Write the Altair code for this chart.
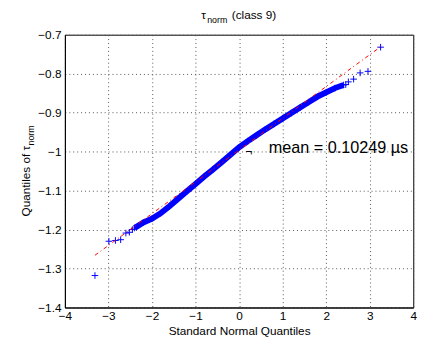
import altair as alt
import pandas as pd

# ---- data ----
band_x = [-2.4, -2.2, -2.0, -1.8, -1.6, -1.4, -1.2, -1.0, -0.8, -0.6, -0.4, -0.2,
          0.0, 0.2, 0.4, 0.6, 0.8, 1.0, 1.2, 1.4, 1.6, 1.8, 2.0, 2.2, 2.4]
band_y = [-1.196, -1.182, -1.172, -1.158, -1.140, -1.121, -1.102, -1.083, -1.064,
          -1.046, -1.027, -1.008, -0.989, -0.973, -0.958, -0.943, -0.929, -0.915,
          -0.901, -0.887, -0.873, -0.859, -0.848, -0.837, -0.829]
tail_x = [-3.31, -2.99, -2.84, -2.72, -2.60, -2.52, -2.45,
          2.45, 2.51, 2.63, 2.78, 2.96, 3.25]
tail_y = [-1.318, -1.230, -1.228, -1.226, -1.209, -1.207, -1.200,
          -0.828, -0.821, -0.814, -0.798, -0.794, -0.732]
ref_x = [-3.31, 3.25]
ref_y = [-1.266, -0.731]
x_ticks = [-4, -3, -2, -1, 0, 1, 2, 3, 4]
y_ticks = [-1.4, -1.3, -1.2, -1.1, -1.0, -0.9, -0.8, -0.7]
mean_value = 0.10249

FONT = "Liberation Sans"
BLUE = "#0000FF"

band = pd.DataFrame({"x": band_x, "y": band_y})
pts = pd.DataFrame({"x": band_x + tail_x, "y": band_y + tail_y})
ref = pd.DataFrame({"x": ref_x, "y": ref_y})

xs = alt.Scale(domain=[-4, 4], nice=False, zero=False)
ys = alt.Scale(domain=[-1.4, -0.7], nice=False, zero=False)

common_axis = dict(grid=True, gridDash=[1, 3], gridColor="#555", gridWidth=1,
                   ticks=False, labelFontSize=12, labelFont=FONT, labelColor="black",
                   domainColor="black", domainWidth=1, labelFlush=False,
                   labelOverlap=False, format="~g", tickCount=20)
xax = alt.Axis(values=x_ticks, title="Standard Normal Quantiles", labelPadding=3,
               titlePadding=5, titleFontSize=12, titleFont=FONT, titleColor="black",
               titleFontWeight="normal", **common_axis)
yax = alt.Axis(values=y_ticks, title=None, labelPadding=4, **common_axis)

base = alt.Chart(band)

band_line = base.mark_line(color=BLUE, strokeWidth=6, strokeCap="butt").encode(
    x=alt.X("x:Q", scale=xs, axis=xax),
    y=alt.Y("y:Q", scale=ys, axis=yax),
)

plus = alt.Chart(pts).mark_point(
    shape="M-1,0L1,0M0,-1L0,1", size=45, filled=False, stroke=BLUE,
    strokeWidth=1, opacity=1
).encode(x=alt.X("x:Q", scale=xs), y=alt.Y("y:Q", scale=ys))

ref_line = alt.Chart(ref).mark_line(
    color="#FF0000", strokeWidth=1, strokeDash=[4, 3, 1, 3]
).encode(x=alt.X("x:Q", scale=xs), y=alt.Y("y:Q", scale=ys))


def label(text, **kw):
    return alt.Chart(pd.DataFrame({"t": [text]})).mark_text(font=FONT, color="black", **kw)


annot = label("mean = 0.10249 µs", fontSize=16.5, align="left", baseline="alphabetic").encode(
    x=alt.X("xx:Q", scale=xs), y=alt.Y("yy:Q", scale=ys), text="t:N"
).transform_calculate(xx="0.68", yy="-1.0034")

arrow = label("¬", fontSize=12, align="left", baseline="alphabetic").encode(
    x=alt.X("xx:Q", scale=xs), y=alt.Y("yy:Q", scale=ys), text="t:N"
).transform_calculate(xx=str(mean_value + 0.045), yy="-1.0075")

t_tau = label("τ", fontSize=12, align="left", baseline="alphabetic").encode(
    x=alt.value(139), y=alt.value(-16), text="t:N")
t_sub = label("norm", fontSize=9, align="left", baseline="alphabetic").encode(
    x=alt.value(145), y=alt.value(-12), text="t:N")
t_rest = label("(class 9)", fontSize=12, align="left", baseline="alphabetic").encode(
    x=alt.value(170), y=alt.value(-16), text="t:N")

y_main = label("Quantiles of τ", fontSize=12, align="center", baseline="middle", angle=270).encode(
    x=alt.value(-40), y=alt.value(149.2), text="t:N")
y_sub = label("norm", fontSize=9, align="center", baseline="middle", angle=270).encode(
    x=alt.value(-35), y=alt.value(102.6), text="t:N")

chart = alt.layer(
    band_line, plus, ref_line, annot, arrow, t_tau, t_sub, t_rest, y_main, y_sub
).properties(
    width=355, height=278,
    autosize=alt.AutoSizeParams(type="none"),
    padding={"left": 58, "top": 24, "right": 14, "bottom": 35},
    background="white",
).configure_view(stroke="black", strokeWidth=1)

chart.save("out.html", embed_options={"renderer": "svg", "actions": False})
